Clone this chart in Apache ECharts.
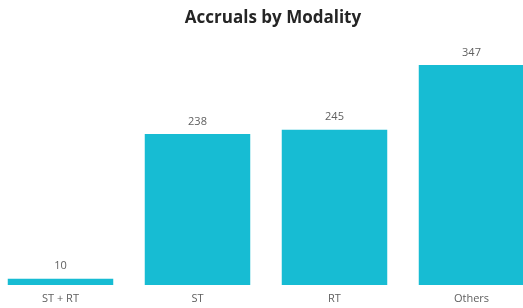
<!DOCTYPE html>
<html>
<head>
<meta charset="utf-8">
<script src="https://cdn.jsdelivr.net/npm/echarts@6/dist/echarts.min.js"></script>
<style>
    html, body { margin: 0; padding: 0; background: #fff; overflow: hidden; }
    body { width: 523px; height: 308px; position: relative; }
    /* plot runs slightly past both edges, as in the reference */
    #chart { position: absolute; left: -8px; top: 0; width: 548px; height: 308px; }
</style>
</head>
<body>
<div id="chart"></div>
<script>
    var categories = ['ST + RT', 'ST', 'RT', 'Others'];
    var accruals = [10, 238, 245, 347];

    var chart = echarts.init(document.getElementById('chart'));

    chart.setOption({
        animation: false,
        title: {
            text: 'Accruals by Modality',
            left: 276,
            textAlign: 'center',
            top: 5,
            textStyle: {
                fontFamily: 'Open Sans',
                fontWeight: 'bold',
                fontSize: 17,
                color: '#252525'
            }
        },
        grid: {
            left: 0,
            right: 0,
            top: 65,
            bottom: 23,
            containLabel: false
        },
        xAxis: {
            type: 'category',
            data: categories,
            axisLine: { show: false },
            axisTick: { show: false },
            axisLabel: {
                margin: 8,
                fontFamily: 'Open Sans',
                fontSize: 11,
                color: '#606060'
            }
        },
        yAxis: {
            type: 'value',
            min: 0,
            max: 347,
            show: false,
            splitLine: { show: false }
        },
        series: [{
            type: 'bar',
            data: accruals,
            barCategoryGap: '23%',
            itemStyle: { color: '#17bcd3' },
            label: {
                show: true,
                position: 'top',
                distance: 7,
                fontFamily: 'Open Sans',
                fontSize: 11,
                color: '#606060'
            }
        }]
    });
</script>
</body>
</html>
